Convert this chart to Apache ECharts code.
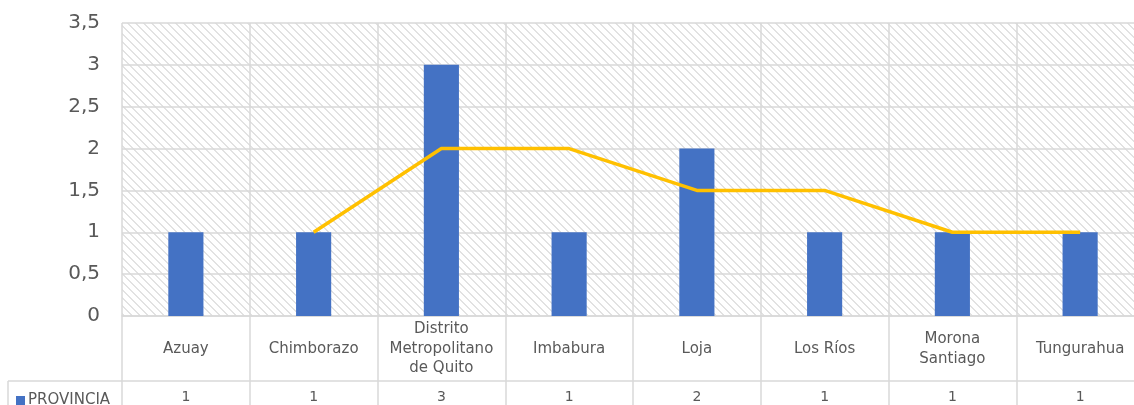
<!DOCTYPE html>
<html>
<head>
<meta charset="utf-8">
<script src="https://cdn.jsdelivr.net/npm/echarts@6/dist/echarts.min.js"></script>
<style>
html,body{margin:0;padding:0;background:#fff;}
#chart{width:1134px;height:405px;}
</style>
</head>
<body>
<div id="chart"></div>
<script>
const categories = ['Azuay', 'Chimborazo', 'Distrito\nMetropolitano\nde Quito', 'Imbabura', 'Loja', 'Los Ríos', 'Morona\nSantiago', 'Tungurahua'];
const provinciaValues = [1, 1, 3, 1, 2, 1, 1, 1];
const movingAvgValues = [null, 1, 2, 2, 1.5, 1.5, 1, 1];
const yTicks = { min: 0, max: 3.5, interval: 0.5 };
const seriesName = 'PROVINCIA';

const FONT = 'DejaVu Sans';
const TXT = '#595959';
const GRID = '#d9d9d9';

// hatch pattern
const P = 8;
const pc = document.createElement('canvas');
pc.width = P; pc.height = P;
const px = pc.getContext('2d');
px.fillStyle = '#ffffff';
px.fillRect(0, 0, P, P);
px.fillStyle = '#e2e2e2';
for (let y = 0; y < P; y++) {
  px.fillRect(y % P, y, 1, 1);
  px.fillRect((y + 1) % P, y, 1, 1);
}

const chart = echarts.init(document.getElementById('chart'), null, { renderer: 'canvas' });
chart.setOption({
  animation: false,
  backgroundColor: '#ffffff',
  textStyle: { fontFamily: FONT },
  grid: {
    left: 122, top: 23, right: -10, bottom: 89,
    outerBoundsMode: 'none',
    containLabel: false,
    show: true, borderWidth: 0,
    backgroundColor: { image: pc, repeat: 'repeat' }
  },
  legend: {
    data: [seriesName],
    left: 11, top: 388,
    icon: 'rect', itemWidth: 9, itemHeight: 9, itemGap: 4,
    textStyle: { color: TXT, fontSize: 15, fontFamily: FONT, padding: [0, 0, 0, -2] }
  },
  xAxis: [
    {
      type: 'category',
      data: categories,
      position: 'bottom',
      axisLine: { show: true, lineStyle: { color: GRID, width: 1.5 } },
      axisTick: { show: true, length: 65, lineStyle: { color: GRID, width: 1.5 } },
      splitLine: { show: true, lineStyle: { color: GRID, width: 1.5 } },
      axisLabel: {
        color: TXT, fontSize: 15, fontFamily: FONT, lineHeight: 19.5,
        verticalAlign: 'middle', margin: 33, interval: 0
      }
    },
    {
      type: 'category',
      data: provinciaValues.map(String),
      position: 'bottom',
      offset: 65,
      axisLine: { show: true, lineStyle: { color: GRID, width: 1.5 } },
      axisTick: { show: true, length: 30, lineStyle: { color: GRID, width: 1.5 } },
      splitLine: { show: false },
      axisLabel: {
        color: TXT, fontSize: 14, fontFamily: FONT,
        verticalAlign: 'middle', margin: 16, interval: 0
      }
    }
  ],
  yAxis: {
    type: 'value',
    min: yTicks.min, max: yTicks.max, interval: yTicks.interval,
    axisLine: { show: false },
    axisTick: { show: false },
    splitLine: { show: true, lineStyle: { color: GRID, width: 1.5 } },
    axisLabel: {
      color: TXT, fontSize: 20, fontFamily: FONT, margin: 22,
      formatter: v => String(v).replace('.', ',')
    }
  },
  series: [
    {
      name: seriesName,
      type: 'bar',
      data: provinciaValues,
      barWidth: '27.5%',
      itemStyle: { color: '#4472C4' }
    },
    {
      name: '2 per. media móvil (PROVINCIA)',
      type: 'line',
      data: movingAvgValues,
      showSymbol: false,
      symbol: 'none',
      lineStyle: { color: '#FFC000', width: 3.5, join: 'round' },
      itemStyle: { color: '#FFC000' },
      z: 5
    }
  ],
  graphic: [
    { type: 'line', shape: { x1: 8, y1: 381, x2: 122, y2: 381 }, style: { stroke: GRID, lineWidth: 1.5 } },
    { type: 'line', shape: { x1: 8, y1: 381, x2: 8, y2: 405 }, style: { stroke: GRID, lineWidth: 1.5 } }
  ]
});
</script>
</body>
</html>
